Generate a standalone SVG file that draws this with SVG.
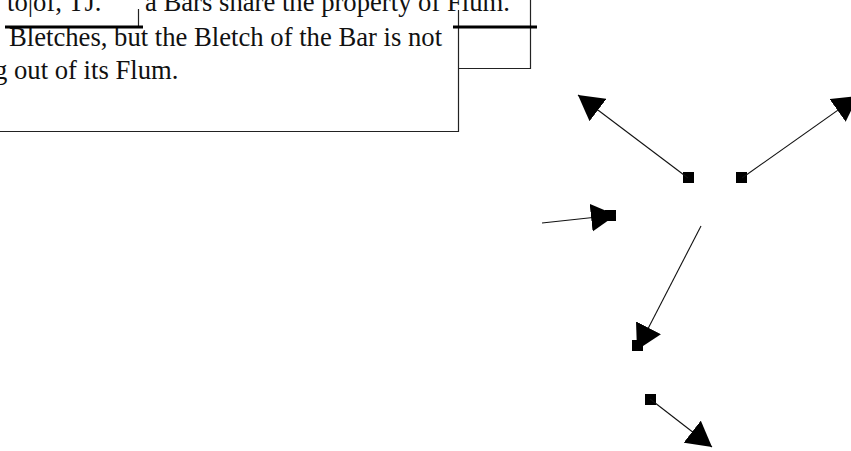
<svg xmlns="http://www.w3.org/2000/svg" width="851" height="451" viewBox="0 0 851 451">
<style>
.t{font-family:"Liberation Serif","Times New Roman",serif;font-size:26.67px;fill:#111}
.b{stroke:#222;stroke-width:1.2;fill:none}
.k{stroke:#000;stroke-width:3;fill:none}
.c{stroke:#111;stroke-width:1.1;fill:none;marker-end:url(#ah)}
.n{fill:#000}
</style>
<defs>
<marker id="ah" markerUnits="userSpaceOnUse" viewBox="0 -14 25 28" refX="25" refY="0" markerWidth="25" markerHeight="28" orient="auto">
<path d="M0,-14 L25,0 L0,14 z" fill="#000"/>
</marker>
</defs>
<rect width="851" height="451" fill="#fff"/>
<g id="textblock">
<text class="t" x="7" y="11">to|of, TJ.</text>
<text class="t" x="145" y="11">a Bars share the property of Flum.</text>
<text class="t" x="9" y="46">Bletches, but the Bletch of the Bar is not</text>
<text class="t" x="-6" y="79">g out of its Flum.</text>
<path class="b" d="M0,131.5 H458.5 V10 M458.5,68.5 H530.5 V0 M138.5,9 V27"/>
<path class="k" d="M5,27 H143 M453,27 H537"/>
</g>
<g id="node1"><rect class="n" x="683" y="172" width="11" height="11"/></g>
<g id="node2"><rect class="n" x="736" y="172" width="11" height="11"/></g>
<g id="node3"><rect class="n" x="605" y="210" width="11" height="11"/></g>
<g id="node4"><rect class="n" x="632" y="340" width="11" height="11"/></g>
<g id="node5"><rect class="n" x="645" y="394" width="11" height="11"/></g>
<g id="connectors">
<line class="c" x1="688" y1="178" x2="578" y2="95"/>
<line class="c" x1="742" y1="178" x2="858" y2="96"/>
<line class="c" x1="542" y1="223" x2="616" y2="215"/>
<line class="c" x1="701" y1="226" x2="637" y2="350"/>
<line class="c" x1="650" y1="399" x2="712" y2="447"/>
</g>
</svg>
